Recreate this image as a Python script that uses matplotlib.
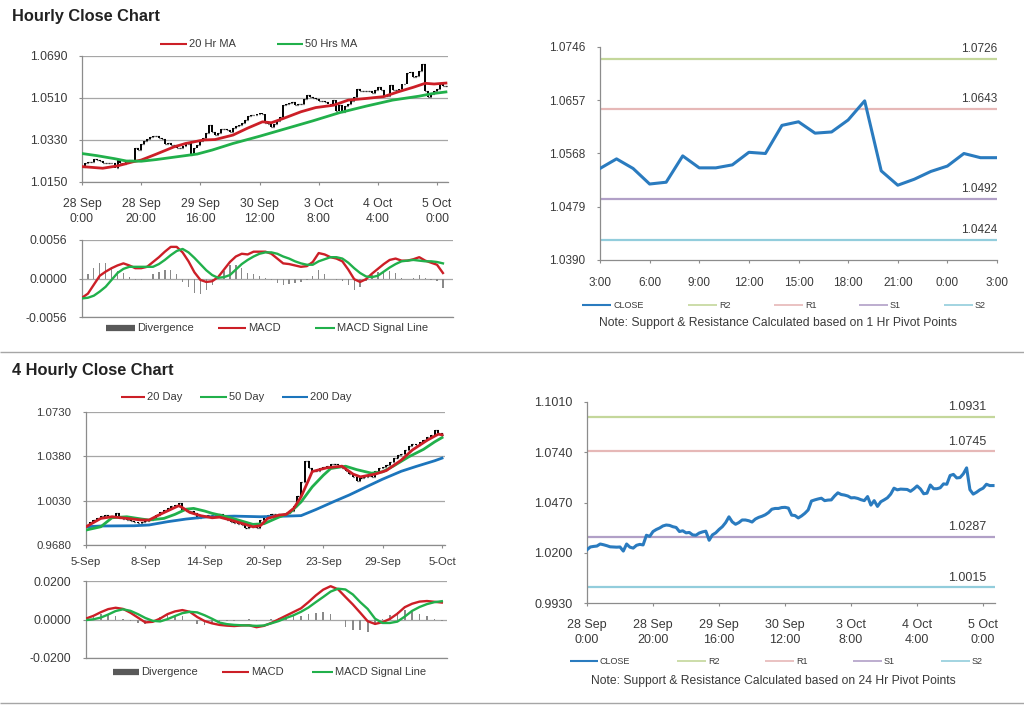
import matplotlib
matplotlib.use("Agg")
import matplotlib.pyplot as plt
from matplotlib.lines import Line2D
import numpy as np

plt.rcParams['font.family'] = ['Liberation Sans', 'DejaVu Sans']

# ---------------- data ----------------
# hourly closes, 28 Sep 0:00 .. 5 Oct 3:00 (one value per hour)
hourly_close = [
    1.0216, 1.0231, 1.0234, 1.0236, 1.0247, 1.0243, 1.0238, 1.0232, 1.0231, 1.0230,
    1.0231, 1.0209, 1.0247, 1.0230, 1.0225, 1.0240, 1.0245, 1.0242, 1.0294, 1.0288,
    1.0314, 1.0325, 1.0333, 1.0344, 1.0349, 1.0347, 1.0340, 1.0336, 1.0314, 1.0318,
    1.0307, 1.0309, 1.0296, 1.0294, 1.0306, 1.0312, 1.0316, 1.0267, 1.0296, 1.0307,
    1.0325, 1.0340, 1.0362, 1.0393, 1.0366, 1.0353, 1.0362, 1.0376, 1.0376, 1.0372,
    1.0365, 1.0381, 1.0390, 1.0396, 1.0404, 1.0416, 1.0434, 1.0438, 1.0438, 1.0443,
    1.0444, 1.0440, 1.0402, 1.0400, 1.0387, 1.0398, 1.0412, 1.0430, 1.0478, 1.0484,
    1.0489, 1.0493, 1.0480, 1.0483, 1.0484, 1.0505, 1.0522, 1.0513, 1.0510, 1.0505,
    1.0495, 1.0496, 1.0492, 1.0485, 1.0480, 1.0502, 1.0456, 1.0480, 1.0449, 1.0474,
    1.0484, 1.0495, 1.0515, 1.0547, 1.0538, 1.0542, 1.0541, 1.0540, 1.0530,
    1.0543, 1.0559, 1.0543, 1.0517, 1.0520, 1.0564, 1.0544, 1.0544, 1.0549, 1.0570,
    1.0568, 1.0615, 1.0621, 1.0602, 1.0604, 1.0624, 1.0656, 1.0539, 1.0515, 1.0525,
    1.0538, 1.0547, 1.0568, 1.0561, 1.0561,
]
hourly_labels = ["28 Sep\n0:00", "28 Sep\n20:00", "29 Sep\n16:00", "30 Sep\n12:00",
                 "3 Oct\n8:00", "4 Oct\n4:00", "5 Oct\n0:00"]
last24_start = 99  # 4 Oct 3:00
last24_labels = ["3:00", "6:00", "9:00", "12:00", "15:00", "18:00", "21:00", "0:00", "3:00"]

ma20h_x = [0, 7, 12, 17, 20, 25, 31, 35, 41, 45, 51, 56, 61, 64, 68, 74, 79, 85, 90, 96,
           102, 107, 112, 116, 119, 123]
ma20h_y = [1.0216, 1.0209, 1.0219, 1.0236, 1.0244, 1.0269, 1.0300, 1.0315, 1.0330, 1.0332,
           1.0351, 1.0381, 1.0408, 1.0404, 1.0422, 1.0451, 1.0469, 1.0479, 1.0501, 1.0508,
           1.0516, 1.0537, 1.0556, 1.0573, 1.0570, 1.0574]
ma50h_x = [0, 5, 11, 15, 20, 25, 32, 39, 44, 51, 60, 69, 78, 87, 96, 105, 114, 118, 123]
ma50h_y = [1.0272, 1.0263, 1.0250, 1.0240, 1.0239, 1.0246, 1.0258, 1.0270, 1.0287, 1.0315,
           1.0346, 1.0379, 1.0412, 1.0447, 1.0475, 1.0501, 1.0518, 1.0528, 1.0536]

# hourly MACD, every 2 hours
h_macd = [-0.0028, -0.0022, -0.0009, 0.0004, 0.0010, 0.0015, 0.0019, 0.0022, 0.0019, 0.0015,
          0.0015, 0.0017, 0.0024, 0.0031, 0.0039, 0.0046, 0.0046, 0.0038, 0.0025, 0.0009,
          -0.0002, -0.0005, -0.0004, 0.0002, 0.0013, 0.0024, 0.0032, 0.0036, 0.0035, 0.0039,
          0.0039, 0.0039, 0.0036, 0.0029, 0.0022, 0.0021, 0.0019, 0.0017, 0.0018, 0.0024,
          0.0037, 0.0035, 0.0031, 0.0029, 0.0025, 0.0013, -0.0001, -0.0005, -0.0001, 0.0007,
          0.0014, 0.0021, 0.0027, 0.0029, 0.0026, 0.0026, 0.0028, 0.0031, 0.0026, 0.0023,
          0.0020, 0.0008]
h_signal = [-0.0029, -0.0028, -0.0025, -0.0019, -0.0012, -0.0002, 0.0008, 0.0014, 0.0017, 0.0017,
            0.0017, 0.0017, 0.0017, 0.0021, 0.0027, 0.0034, 0.0040, 0.0043, 0.0038, 0.0030,
            0.0021, 0.0012, 0.0005, 0.0001, 0.0002, 0.0005, 0.0013, 0.0021, 0.0027, 0.0032,
            0.0036, 0.0038, 0.0038, 0.0036, 0.0032, 0.0029, 0.0025, 0.0022, 0.0020, 0.0020,
            0.0025, 0.0028, 0.0031, 0.0031, 0.0029, 0.0023, 0.0015, 0.0008, 0.0003, 0.0002,
            0.0004, 0.0010, 0.0016, 0.0021, 0.0025, 0.0026, 0.0027, 0.0026, 0.0025, 0.0025,
            0.0024, 0.0022]

# hourly pivots (1 Hr) and daily pivots (24 Hr)
piv_names = ["R2", "R1", "S1", "S2"]
piv_1h = [1.0726, 1.0643, 1.0492, 1.0424]
piv_24h = [1.0931, 1.0745, 1.0287, 1.0015]

# 4 hourly closes 5 Sep .. 5 Oct
four_close = [
    0.9838, 0.9864, 0.9875, 0.9890, 0.9905, 0.9916, 0.9905, 0.9910, 0.9935, 0.9890,
    0.9885, 0.9877, 0.9870, 0.9860, 0.9851, 0.9858, 0.9872, 0.9880, 0.9890, 0.9915,
    0.9943, 0.9960, 0.9974, 0.9988, 0.9995, 1.0008, 0.9956, 0.9945, 0.9948, 0.9930,
    0.9895, 0.9905, 0.9910, 0.9918, 0.9916, 0.9925, 0.9922, 0.9900, 0.9877, 0.9860,
    0.9851, 0.9845, 0.9835, 0.9811, 0.9825, 0.9820, 0.9817, 0.9877, 0.9905, 0.9916,
    0.9928, 0.9925, 0.9922, 0.9928, 0.9932, 0.9945, 0.9990, 1.0070, 1.0180, 1.0340,
    1.0290, 1.0262, 1.0265, 1.0284, 1.0295, 1.0305, 1.0318, 1.0323, 1.0314, 1.0290,
    1.0262, 1.0240, 1.0218, 1.0185, 1.0205, 1.0218, 1.0225, 1.0220, 1.0265, 1.0285,
    1.0297, 1.0315, 1.0336, 1.0365, 1.0389, 1.0400, 1.0430, 1.0465, 1.0481, 1.0473,
    1.0490, 1.0507, 1.0530, 1.0546, 1.0586, 1.0567, 1.0546,
]
four_labels = ["5-Sep", "8-Sep", "14-Sep", "20-Sep", "23-Sep", "29-Sep", "5-Oct"]

d20_x = [0, 4, 7, 11, 15, 17, 20, 23, 25, 26, 28, 31, 34, 36, 39, 42, 45, 47, 49, 52, 54,
         56, 58, 60, 61, 65, 69, 72, 74, 78, 81, 85, 88, 92, 95, 96]
d20_y = [0.9824, 0.9890, 0.9903, 0.9890, 0.9877, 0.9877, 0.9922, 0.9963, 0.9990, 0.9975,
         0.9937, 0.9911, 0.9895, 0.9900, 0.9877, 0.9851, 0.9824, 0.9832, 0.9890, 0.9916,
         0.9922, 0.9969, 1.0061, 1.0192, 1.0260, 1.0290, 1.0302, 1.0240, 1.0218, 1.0240,
         1.0268, 1.0350, 1.0430, 1.0507, 1.0555, 1.0550]
d50_x = [0, 4, 7, 11, 15, 17, 21, 24, 27, 29, 32, 34, 38, 42, 45, 48, 52, 55, 58, 61, 64,
         66, 70, 73, 77, 80, 83, 87, 91, 94, 96]
d50_y = [0.9798, 0.9824, 0.9895, 0.9903, 0.9885, 0.9877, 0.9890, 0.9922, 0.9963, 0.9969,
         0.9948, 0.9930, 0.9903, 0.9869, 0.9843, 0.9848, 0.9900, 0.9935, 1.0020, 1.0139,
         1.0231, 1.0284, 1.0302, 1.0275, 1.0247, 1.0258, 1.0305, 1.0376, 1.0435, 1.0494,
         1.0528]
d200_x = [0, 4, 13, 17, 22, 27, 33, 40, 47, 54, 58, 62, 67, 71, 76, 80, 85, 89, 94, 96]
d200_y = [0.9824, 0.9830, 0.9832, 0.9838, 0.9864, 0.9885, 0.9903, 0.9908, 0.9903, 0.9908,
          0.9912, 0.9960, 1.0025, 1.0075, 1.0145, 1.0200, 1.0262, 1.0300, 1.0345, 1.0366]

# 4 hourly MACD, every 2 bars
f_macd = [0.0005, 0.0019, 0.0038, 0.0054, 0.0061, 0.0055, 0.0035, 0.0010, -0.0015, -0.0012,
          0.0005, 0.0028, 0.0042, 0.0049, 0.0040, 0.0013, -0.0008, -0.0020, -0.0028, -0.0032,
          -0.0034, -0.0031, -0.0030, -0.0040, -0.0033, -0.0018, 0.0001, 0.0020, 0.0039, 0.0058,
          0.0090, 0.0125, 0.0155, 0.0173, 0.0157, 0.0117, 0.0078, 0.0035, -0.0009, -0.0023,
          -0.0014, 0.0003, 0.0030, 0.0064, 0.0082, 0.0093, 0.0096, 0.0092, 0.0088]
f_signal = [-0.0003, 0.0001, 0.0010, 0.0026, 0.0044, 0.0053, 0.0045, 0.0028, 0.0008, -0.0007,
            -0.0010, 0.0002, 0.0018, 0.0033, 0.0040, 0.0037, 0.0022, 0.0004, -0.0016, -0.0024,
            -0.0028, -0.0030, -0.0031, -0.0033, -0.0031, -0.0020, -0.0008, 0.0008, 0.0022, 0.0040,
            0.0062, 0.0090, 0.0117, 0.0145, 0.0160, 0.0156, 0.0130, 0.0090, 0.0055, 0.0004,
            -0.0018, -0.0018, -0.0011, 0.0015, 0.0045, 0.0065, 0.0080, 0.0090, 0.0095]

# ---------------- style ----------------
RED, GREEN, BLUE = "#cc1f27", "#21b04b", "#1c75bc"
CLOSE_C = "#2a7bbf"
PIV_C = ["#c4d79b", "#e6b8b7", "#b1a0c7", "#92cddc"]
GRID, AXC, TXT = "#a6a6a6", "#8c8c8c", "#3a3a3a"

W, H = 1024, 706
fig = plt.figure(figsize=(W / 100, H / 100), dpi=100)
fig.patch.set_facecolor("white")


def pax(l, t, r, b):
    return fig.add_axes([l / W, 1 - b / H, (r - l) / W, (b - t) / H])


def fline(x0, x1, y, color, lw):
    fig.add_artist(Line2D([x0 / W, x1 / W], [1 - y / H, 1 - y / H], color=color, lw=lw,
                          transform=fig.transFigure, solid_capstyle="butt"))


def ftext(x, y, s, fs=8, **kw):
    kw.setdefault("va", "center")
    kw.setdefault("color", TXT)
    fig.text(x / W, 1 - y / H, s, fontsize=fs, **kw)


def legend(y, items, fs=8):
    for x0, x1, color, lw, label in items:
        fline(x0, x1, y, color, lw)
        ftext(x1 + 2, y, label, fs=fs)


def style(ax, grid=True, xpad=9, fs=8.8):
    for s in ("top", "right"):
        ax.spines[s].set_visible(False)
    for s in ("left", "bottom"):
        ax.spines[s].set_color(AXC)
        ax.spines[s].set_linewidth(0.9)
    ax.tick_params(colors=AXC, labelcolor=TXT, length=2.5, width=0.8, labelsize=fs, direction="out")
    ax.tick_params(axis="y", pad=8)
    ax.tick_params(axis="x", pad=xpad)
    if grid:
        ax.yaxis.grid(True, color=GRID, lw=0.9)
        ax.set_axisbelow(True)


def yticks(ax, vals):
    ax.set_yticks(vals)
    ax.set_yticklabels([f"{v:.4f}" for v in vals])
    ax.set_ylim(vals[0], vals[-1])


def ohlc(ax, close):
    c = np.asarray(close)
    o = np.r_[c[0], c[:-1]]
    x = np.arange(len(c))
    ax.vlines(x, np.minimum(o, c), np.maximum(o, c), color="black", lw=1.4, zorder=2)
    ax.hlines(o, x - 0.3, x, color="black", lw=0.9, zorder=2)
    ax.hlines(c, x, x + 0.3, color="black", lw=0.9, zorder=2)


def macd_panel(ax, x, macd, sig, width):
    m, s = np.asarray(macd), np.asarray(sig)
    ax.bar(x, m - s, width=width, color="#8a8a8a", zorder=2)
    ax.plot(x, m, color=RED, lw=1.7, zorder=3)
    ax.plot(x, s, color=GREEN, lw=1.7, zorder=3)
    style(ax)
    ax.set_xticks([])


def pivot_panel(ax, x, close, pivots, label_dx, fs):
    for v, c in zip(pivots, PIV_C):
        ax.axhline(v, color=c, lw=1.6, zorder=1)
        ax.annotate(f"{v:.4f}", xy=(1, v), xycoords=("axes fraction", "data"),
                    xytext=(label_dx, 2.5), textcoords="offset points",
                    ha="right", va="bottom", fontsize=fs, color=TXT)
    ax.plot(x, close, color=CLOSE_C, lw=2.2, zorder=3)
    style(ax, grid=False, fs=fs)


# ---------------- Hourly section ----------------
ftext(12, 16, "Hourly Close Chart", fs=11.8, weight="bold", color="#222222")

ax = pax(82, 56, 448, 182)
hx = np.arange(len(hourly_close))
ohlc(ax, hourly_close)
ax.plot(ma20h_x, ma20h_y, color=RED, lw=2.0, zorder=3)
ax.plot(ma50h_x, ma50h_y, color=GREEN, lw=2.0, zorder=3)
style(ax)
yticks(ax, [1.0150, 1.0330, 1.0510, 1.0690])
ax.set_xticks(np.arange(0, 121, 20))
ax.set_xticklabels(hourly_labels, linespacing=1.3)
ax.set_xlim(0, 123.7)
legend(44, [(160, 187, RED, 1.5, "20 Hr MA"), (277, 303, GREEN, 1.5, "50 Hrs MA")])

ax = pax(82, 240, 453, 317)
macd_panel(ax, np.arange(0, 2 * len(h_macd), 2), h_macd, h_signal, 0.45)
ax.set_xlim(0, 125.4)
yticks(ax, [-0.0056, 0.0, 0.0056])
legend(328, [(106, 135, "#595959", 4.5, "Divergence"), (218, 246, RED, 1.5, "MACD"),
             (315, 335, GREEN, 1.5, "MACD Signal Line")])

ax = pax(600, 47, 997, 260)
day = hourly_close[last24_start:]
pivot_panel(ax, np.arange(len(day)), day, piv_1h, 0, 8.5)
ax.set_xlim(0, 24)
yticks(ax, [1.0390, 1.0479, 1.0568, 1.0657, 1.0746])
ax.set_xticks(np.arange(0, 25, 3))
ax.set_xticklabels(last24_labels)
ax.tick_params(axis="x", pad=10)
legend(305, [(582, 611, CLOSE_C, 1.5, "CLOSE")] +
       [(x0, x0 + 29, c, 1.2, n) for x0, c, n in zip([688, 774, 859, 944], PIV_C, piv_names)], fs=6.5)
ftext(778, 323, "Note: Support & Resistance Calculated based on 1 Hr Pivot Points", fs=8.7, ha="center")

fline(0, W, 352, "#a6a6a6", 1.0)

# ---------------- 4 Hourly section ----------------
ftext(12, 370, "4 Hourly Close Chart", fs=11.8, weight="bold", color="#222222")

ax = pax(86, 412, 445, 545)
ohlc(ax, four_close)
ax.plot(d200_x, d200_y, color=BLUE, lw=2.0, zorder=3)
ax.plot(d50_x, d50_y, color=GREEN, lw=2.0, zorder=3)
ax.plot(d20_x, d20_y, color=RED, lw=2.0, zorder=3)
style(ax, xpad=6, fs=8.2)
yticks(ax, [0.9680, 1.0030, 1.0380, 1.0730])
ax.set_xticks(np.arange(0, 97, 16))
ax.set_xticklabels(four_labels)
ax.set_xlim(0, 96.8)
legend(397, [(121, 145, RED, 1.5, "20 Day"), (200, 227, GREEN, 1.5, "50 Day"),
             (282, 308, BLUE, 1.5, "200 Day")])

ax = pax(86, 581, 447, 658)
macd_panel(ax, np.arange(0, 2 * len(f_macd), 2), f_macd, f_signal, 0.45)
ax.set_xlim(0, 97.4)
yticks(ax, [-0.0200, 0.0, 0.0200])
legend(672, [(113, 139, "#595959", 4.5, "Divergence"), (222, 249, RED, 1.5, "MACD"),
             (312, 333, GREEN, 1.5, "MACD Signal Line")])

ax = pax(587, 402, 995, 603)
pivot_panel(ax, hx, hourly_close, piv_24h, -6, 9)
ax.set_xlim(0, 123.6)
yticks(ax, [0.9930, 1.0200, 1.0470, 1.0740, 1.1010])
ax.set_xticks(np.arange(0, 121, 20))
ax.set_xticklabels(hourly_labels, linespacing=1.3)
ax.tick_params(axis="x", pad=9)
legend(661, [(570, 598, CLOSE_C, 1.5, "CLOSE")] +
       [(x0, x0 + 29, c, 1.2, n) for x0, c, n in zip([677, 765, 853, 941], PIV_C, piv_names)], fs=6.5)
ftext(773, 681, "Note: Support & Resistance Calculated based on 24 Hr Pivot Points", fs=8.7, ha="center")

fline(0, W, 703, "#a6a6a6", 1.0)

fig.savefig("out.png", dpi=100, facecolor="white")
